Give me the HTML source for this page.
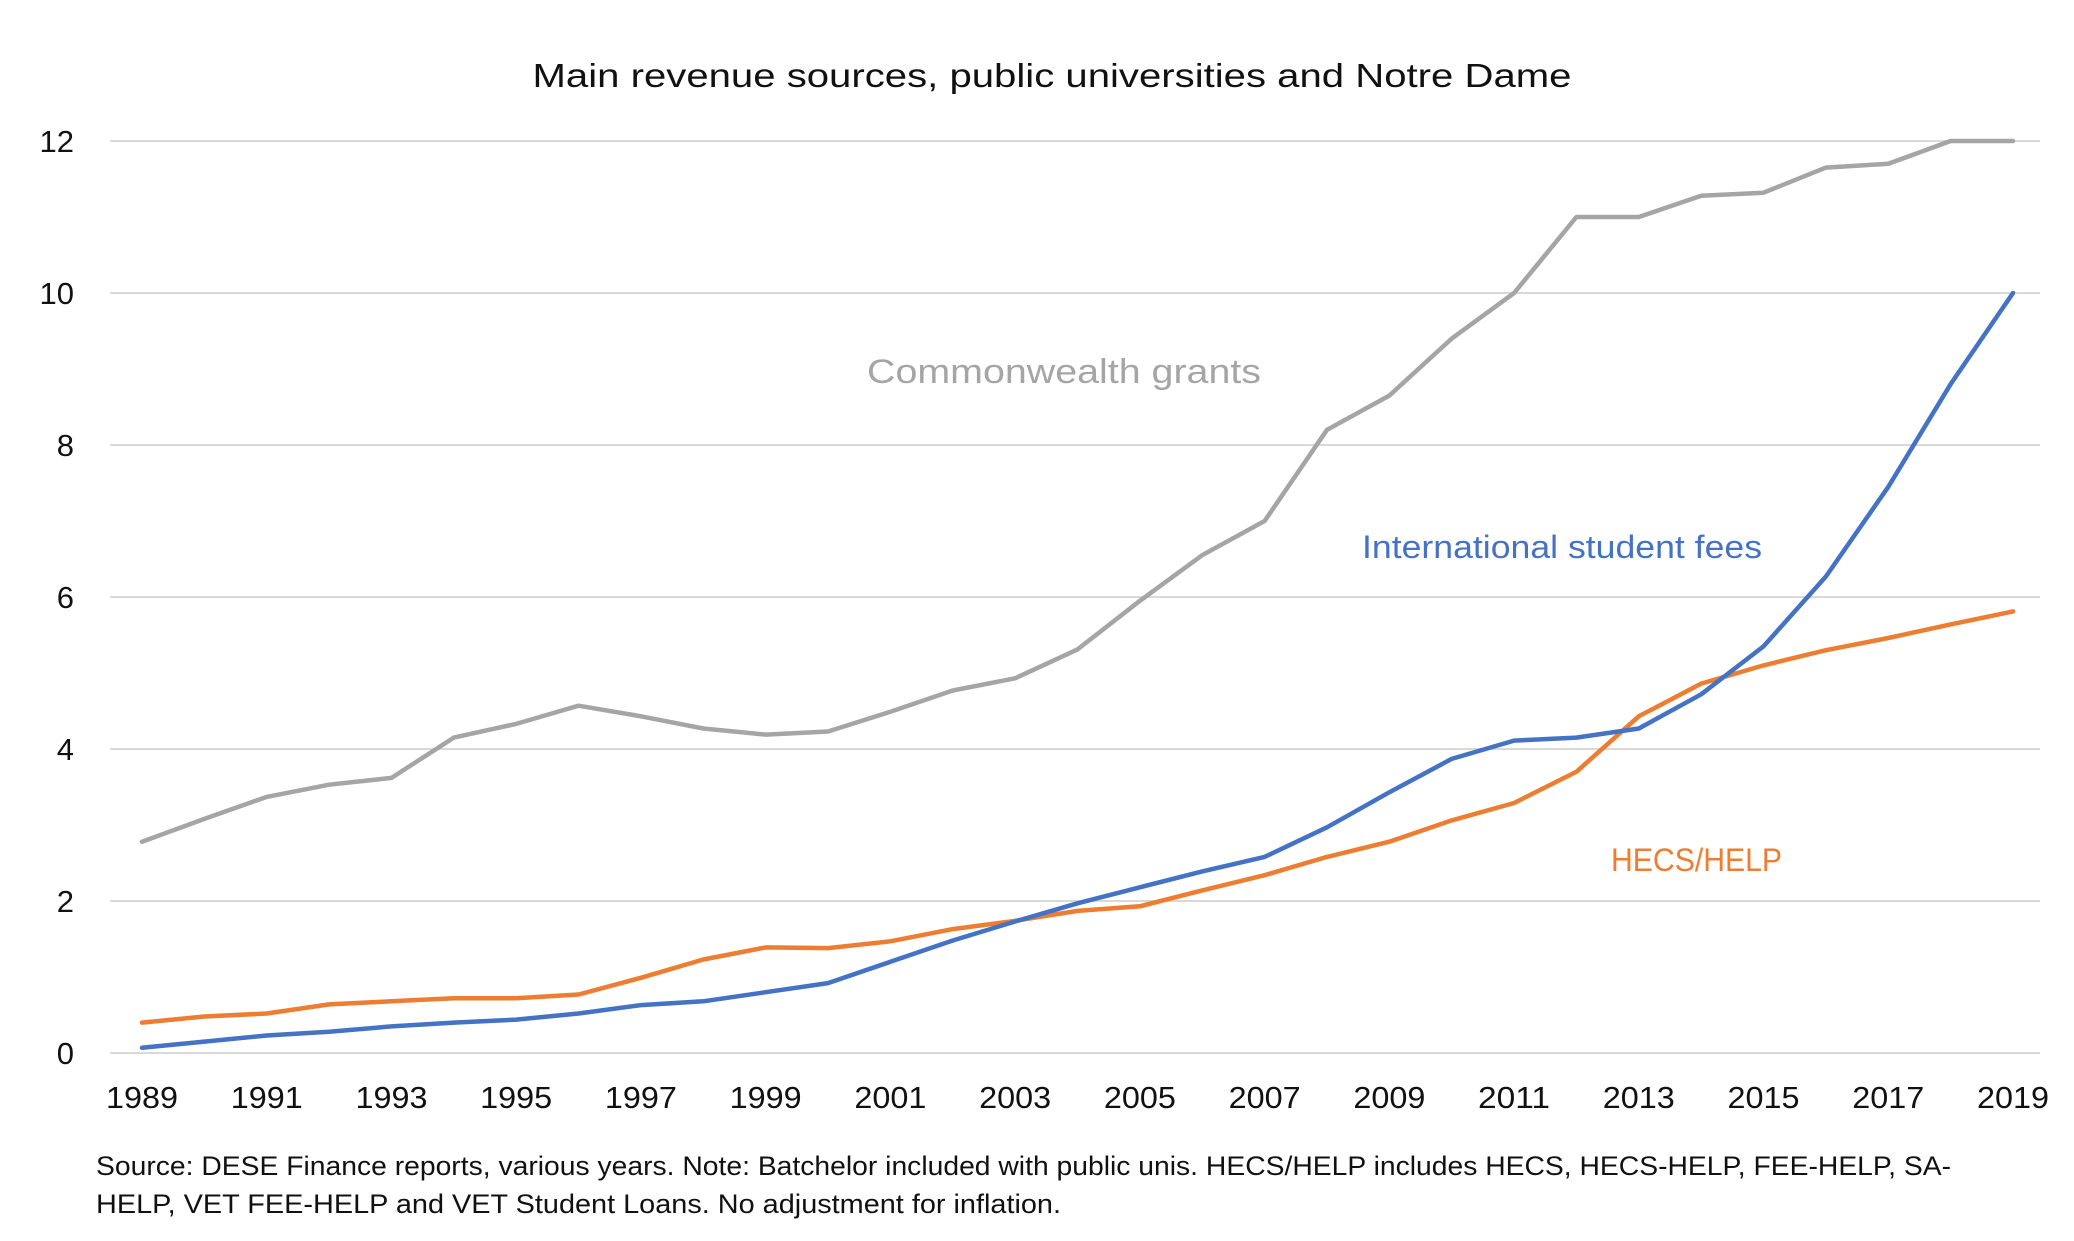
<!DOCTYPE html>
<html><head><meta charset="utf-8">
<style>
html,body{margin:0;padding:0;background:#fff;}
svg{display:block;font-family:"Liberation Sans",sans-serif;}
</style></head>
<body>
<svg id="chart" width="2074" height="1241" viewBox="0 0 2074 1241">
<text x="1052" y="87" font-size="33" text-anchor="middle" fill="#111" textLength="1039" lengthAdjust="spacingAndGlyphs">Main revenue sources, public universities and Notre Dame</text>
<g id="grid"></g>
<g id="yticks"></g>
<g id="xticks"></g>
<g id="series"></g>
<text x="867" y="383" font-size="34" fill="#a5a5a5" textLength="394" lengthAdjust="spacingAndGlyphs">Commonwealth grants</text>
<text x="1362" y="558" font-size="32" fill="#4472c4" textLength="400" lengthAdjust="spacingAndGlyphs">International student fees</text>
<text x="1611" y="871" font-size="32" fill="#ed7d31" textLength="171" lengthAdjust="spacingAndGlyphs">HECS/HELP</text>
<text x="96" y="1175" font-size="27" fill="#111" textLength="1855" lengthAdjust="spacingAndGlyphs">Source: DESE Finance reports, various years. Note: Batchelor included with public unis. HECS/HELP includes HECS, HECS-HELP, FEE-HELP, SA-</text>
<text x="96" y="1213" font-size="27" fill="#111" textLength="965" lengthAdjust="spacingAndGlyphs">HELP, VET FEE-HELP and VET Student Loans. No adjustment for inflation.</text>
</svg>
<script>
const years = [1989,1990,1991,1992,1993,1994,1995,1996,1997,1998,1999,2000,2001,2002,2003,2004,2005,2006,2007,2008,2009,2010,2011,2012,2013,2014,2015,2016,2017,2018,2019];
const grants = [2.78,3.08,3.37,3.53,3.62,4.15,4.33,4.57,4.43,4.27,4.19,4.23,4.49,4.77,4.93,5.31,5.95,6.55,7.0,8.2,8.65,9.4,10.0,11.0,11.0,11.28,11.32,11.65,11.7,12.0,12.0];
const intl = [0.07,0.15,0.23,0.28,0.35,0.40,0.44,0.52,0.63,0.68,0.80,0.92,1.20,1.48,1.73,1.97,2.18,2.39,2.58,2.97,3.43,3.87,4.11,4.15,4.27,4.72,5.35,6.27,7.45,8.80,10.0];
const hecs = [0.40,0.48,0.52,0.64,0.68,0.72,0.72,0.77,0.99,1.23,1.39,1.38,1.47,1.63,1.74,1.87,1.93,2.14,2.34,2.58,2.78,3.06,3.29,3.70,4.43,4.86,5.10,5.30,5.46,5.64,5.81];
const yTicks = [0,2,4,6,8,10,12];
const xTickLabels = [1989,1991,1993,1995,1997,1999,2001,2003,2005,2007,2009,2011,2013,2015,2017,2019];

const NS = "http://www.w3.org/2000/svg";
const x = yr => 142 + (yr - 1989) * (2013 - 142) / 30;
const y = v => 1053 - v * (1053 - 141) / 12;
function mk(tag, attrs, parent){const e=document.createElementNS(NS,tag);for(const k in attrs)e.setAttribute(k,attrs[k]);parent.appendChild(e);return e;}
const grid=document.getElementById('grid'), yt=document.getElementById('yticks'), xt=document.getElementById('xticks'), ser=document.getElementById('series');
yTicks.forEach(v=>{
  const l=mk('line',{x1:110,x2:2040,y1:y(v),y2:y(v),stroke:'#d9d9d9','stroke-width':2},grid);
  
  
  const t=mk('text',{x:74,y:y(v)+11,'font-size':31,'text-anchor':'end',fill:'#111'},yt);
  t.textContent=v;
  
  
});
xTickLabels.forEach(yr=>{
  const t=mk('text',{x:x(yr),y:1108,'font-size':31,'text-anchor':'middle',fill:'#111',textLength:72,lengthAdjust:'spacingAndGlyphs'},xt);
  t.textContent=yr;
  
  
});
function drawLine(vals,color,name){
  const d=vals.map((v,i)=>(i?'L':'M')+x(years[i]).toFixed(1)+' '+y(v).toFixed(1)).join(' ');
  const p=mk('path',{d:d,fill:'none',stroke:color,'stroke-width':4.5,'stroke-linejoin':'round','stroke-linecap':'round'},ser);
  
  
}
drawLine(grants,'#a5a5a5','line-commonwealth-grants');
drawLine(hecs,'#ed7d31','line-hecs-help');
drawLine(intl,'#4472c4','line-international-student-fees');
</script>
</body></html>
